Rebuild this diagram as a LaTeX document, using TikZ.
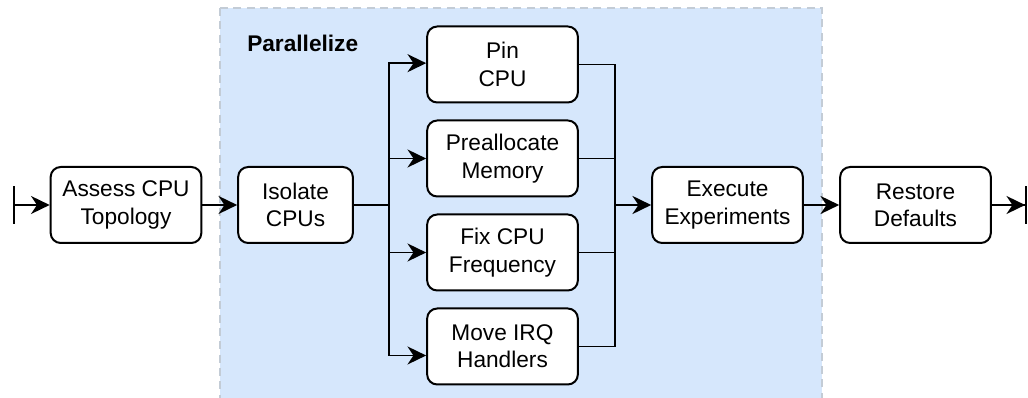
\documentclass[tikz,border=0pt]{standalone}
\usepackage{fontspec}
\setmainfont{Liberation Sans}
\usetikzlibrary{arrows.meta,calc}

\definecolor{groupfill}{HTML}{D6E7FC}
\definecolor{groupline}{HTML}{C3CCD6}

\tikzset{
  stepbox/.style={draw=black, line width=1.5pt, fill=white, rounded corners=7.5pt,
    minimum height=57pt, align=center, inner sep=0pt,
    font=\fontsize{17pt}{20.5pt}\selectfont},
  conn/.style={draw=black, line width=1.4pt},
  trunk/.style={draw=black, line width=2.2pt},
  tip/.style={-{Stealth[length=14pt,width=13.5pt,inset=4.5pt]}},
}

\begin{document}
\begin{tikzpicture}[x=0.75pt,y=-0.75pt]
  \useasboundingbox (0,0) rectangle (1028,398);

  % group background
  \begin{scope}
    \clip (0,0) rectangle (1028,398);
    \path[fill=groupfill, draw=groupline, line width=1pt, dash pattern=on 6pt off 4pt]
      (220,8) rectangle (822,410);
  \end{scope}
  \node[anchor=west, font=\bfseries\fontsize{17pt}{20pt}\selectfont, inner sep=0pt]
    (grouplabel) at (247,43) {Parallelize};

  % process steps
  \node[stepbox, minimum width=113pt] (assess) at (126,205) {Assess CPU\\Topology};
  \node[stepbox, minimum width=86pt] (isolate) at (295.5,205) {Isolate\\CPUs};

  \node[stepbox, minimum width=113pt] (pin) at (502.5,64.5) {Pin\\CPU};
  \node[stepbox, minimum width=113pt] (prealloc) at (502.5,158.5) {Preallocate\\Memory};
  \node[stepbox, minimum width=113pt] (fixfreq) at (502.5,252.5) {Fix CPU\\Frequency};
  \node[stepbox, minimum width=113pt] (irq) at (502.5,346.5) {Move IRQ\\Handlers};

  \node[stepbox, minimum width=113pt] (exec) at (727.5,205) {Execute\\Experiments};
  \node[stepbox, minimum width=113pt] (restore) at (915.5,205) {Restore\\Defaults};

  % start and end markers
  \coordinate (start) at (13,205);
  \coordinate (finish) at (1027,205);
  \coordinate (split) at (389,205);
  \coordinate (merge) at (615,205);

  \draw[conn, {Bar[width=28pt]}-{Stealth[length=14pt,width=13.5pt,inset=4.5pt]}] (start) -- (assess.west);
  \draw[conn, tip] (assess.east) -- (isolate.west);

  % fan out
  \draw[trunk] (isolate.east) -- (split);
  \draw[conn, tip] (split) |- ([yshift=1pt]pin.west);
  \draw[conn, tip] (split) |- (prealloc.west);
  \draw[conn, tip] (split) |- (fixfreq.west);
  \draw[conn, tip] (split) |- ($(irq.west)+(0,9)$);

  % fan in
  \draw[conn] (pin.east) -| (merge);
  \draw[conn] (prealloc.east) -| (merge);
  \draw[conn] (fixfreq.east) -| (merge);
  \draw[conn] (irq.east) -| (merge);
  \draw[trunk, tip] (merge) -- (exec.west);

  \draw[conn, tip] (exec.east) -- (restore.west);
  \draw[conn, -{Stealth[length=14pt,width=13.5pt,inset=4.5pt] Bar[width=28pt]}] (restore.east) -- (finish);
\end{tikzpicture}
\end{document}
